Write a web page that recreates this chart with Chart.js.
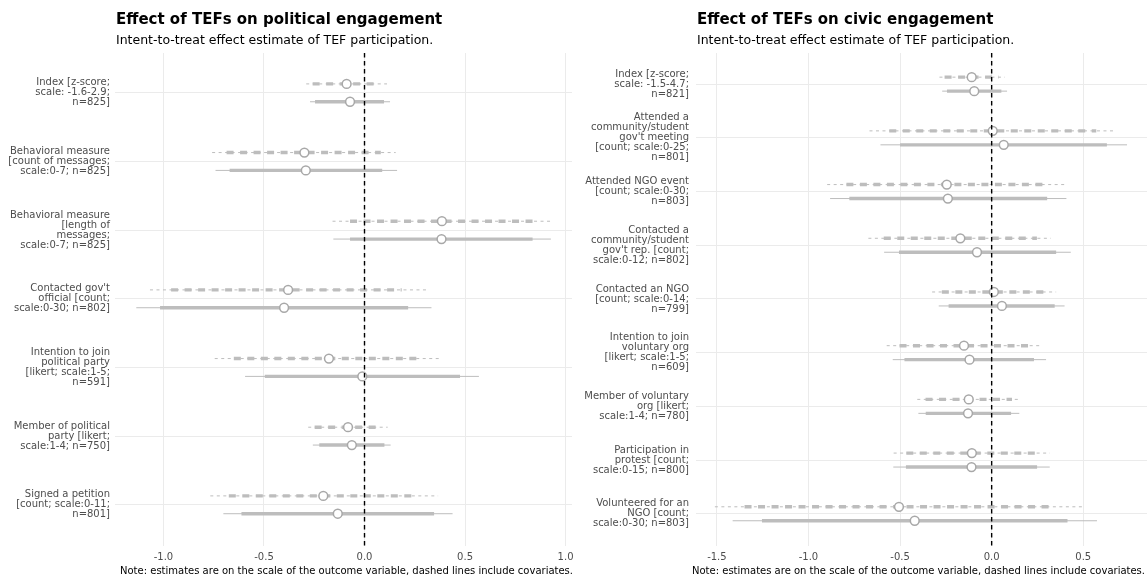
<!DOCTYPE html>
<html>
<head>
<meta charset="utf-8">
<script src="https://cdn.jsdelivr.net/npm/chart.js@4.4.1/dist/chart.umd.min.js"></script>
<style>
  html, body { margin: 0; padding: 0; background: #ffffff; }
  #wrap { position: relative; width: 1147px; height: 577px; overflow: hidden; }
  #pol, #civ { position: absolute; top: 0; }
  #pol { left: 0; }
  #civ { left: 572px; }
</style>
</head>
<body>
<div id="wrap">
  <canvas id="pol" width="590" height="577"></canvas>
  <canvas id="civ" width="600" height="577"></canvas>
</div>
<script>
// ---- Political engagement outcomes (top to bottom) ----
const polLabels = [
  ['Index [z-score;', 'scale: -1.6-2.9;', 'n=825]'],
  ['Behavioral measure', '[count of messages;', 'scale:0-7; n=825]'],
  ['Behavioral measure', '[length of', 'messages;', 'scale:0-7; n=825]'],
  ["Contacted gov't", 'official [count;', 'scale:0-30; n=802]'],
  ['Intention to join', 'political party', '[likert; scale:1-5;', 'n=591]'],
  ['Member of political', 'party [likert;', 'scale:1-4; n=750]'],
  ['Signed a petition', '[count; scale:0-11;', 'n=801]']
];
// with covariates (dashed)
const polAdjEst  = [-0.089, -0.299, 0.385, -0.380, -0.177, -0.082, -0.205];
const polAdjCI95 = [[-0.290, 0.112], [-0.758, 0.155], [-0.159, 0.927], [-1.067, 0.306], [-0.745, 0.385], [-0.280, 0.115], [-0.767, 0.366]];
const polAdjCI90 = [[-0.258, 0.078], [-0.686, 0.081], [-0.072, 0.844], [-0.962, 0.185], [-0.650, 0.290], [-0.248, 0.084], [-0.675, 0.265]];
// without covariates (solid)
const polRawEst  = [-0.072, -0.292, 0.383, -0.400, -0.011, -0.063, -0.133];
const polRawCI95 = [[-0.271, 0.127], [-0.741, 0.162], [-0.155, 0.927], [-1.135, 0.333], [-0.594, 0.569], [-0.257, 0.130], [-0.702, 0.438]];
const polRawCI90 = [[-0.246, 0.097], [-0.671, 0.088], [-0.072, 0.836], [-1.017, 0.217], [-0.496, 0.475], [-0.225, 0.099], [-0.612, 0.346]];
const polTicks = [-1, -0.5, 0, 0.5, 1];

// ---- Civic engagement outcomes (top to bottom) ----
const civLabels = [
  ['Index [z-score;', 'scale: -1.5-4.7;', 'n=821]'],
  ['Attended a', 'community/student', "gov't meeting", '[count; scale:0-25;', 'n=801]'],
  ['Attended NGO event', '[count; scale:0-30;', 'n=803]'],
  ['Contacted a', 'community/student', "gov't rep. [count;", 'scale:0-12; n=802]'],
  ['Contacted an NGO', '[count; scale:0-14;', 'n=799]'],
  ['Intention to join', 'voluntary org', '[likert; scale:1-5;', 'n=609]'],
  ['Member of voluntary', 'org [likert;', 'scale:1-4; n=780]'],
  ['Participation in', 'protest [count;', 'scale:0-15; n=800]'],
  ['Volunteered for an', 'NGO [count;', 'scale:0-30; n=803]']
];
const civAdjEst  = [-0.109, 0.006, -0.245, -0.171, 0.012, -0.151, -0.125, -0.108, -0.506];
const civAdjCI95 = [[-0.285, 0.072], [-0.667, 0.679], [-0.898, 0.412], [-0.673, 0.323], [-0.325, 0.352], [-0.573, 0.267], [-0.406, 0.157], [-0.535, 0.318], [-1.511, 0.498]];
const civAdjCI90 = [[-0.257, 0.040], [-0.559, 0.571], [-0.793, 0.303], [-0.589, 0.247], [-0.272, 0.296], [-0.503, 0.200], [-0.361, 0.111], [-0.466, 0.250], [-1.349, 0.337]];
const civRawEst  = [-0.095, 0.066, -0.239, -0.080, 0.056, -0.121, -0.129, -0.110, -0.420];
const civRawCI95 = [[-0.270, 0.084], [-0.607, 0.739], [-0.882, 0.408], [-0.587, 0.432], [-0.289, 0.398], [-0.540, 0.297], [-0.400, 0.151], [-0.537, 0.317], [-1.414, 0.575]];
const civRawCI90 = [[-0.244, 0.053], [-0.500, 0.629], [-0.777, 0.303], [-0.506, 0.352], [-0.235, 0.344], [-0.476, 0.231], [-0.360, 0.106], [-0.468, 0.248], [-1.254, 0.414]];
const civTicks = [-1.5, -1, -0.5, 0, 0.5];

const SUBTITLE = 'Intent-to-treat effect estimate of TEF participation.';
const CAPTION = 'Note: estimates are on the scale of the outcome variable, dashed lines include covariates.';

const FONT = '"DejaVu Sans", "Liberation Sans", sans-serif';
const DODGE = 0.13;          // vertical offset between the two estimates of a row
const LINE_GREY = '#bdbdbd';
const POINT_GREY = '#a8a8a8';

// interval segments: one line dataset, broken into pieces by null points
function intervalData(ci, offset) {
  const out = [];
  ci.forEach((pair, i) => {
    out.push({ x: pair[0], y: i + offset });
    out.push({ x: pair[1], y: i + offset });
    out.push({ x: null, y: null });
  });
  return out;
}
function pointData(est, offset) {
  return est.map((v, i) => ({ x: v, y: i + offset }));
}

// titles, subtitle and caption, aligned to the plotting panel
const panelText = {
  id: 'panelText',
  afterDraw(chart, args, opts) {
    const { ctx, chartArea } = chart;
    ctx.save();
    ctx.fillStyle = '#000000';
    ctx.textBaseline = 'alphabetic';
    ctx.textAlign = 'left';
    ctx.font = 'bold 15px ' + FONT;
    ctx.fillText(opts.title, chartArea.left + 1, 24);
    ctx.font = '12.5px ' + FONT;
    ctx.fillText(opts.subtitle, chartArea.left + 1, 44);
    ctx.font = '10px ' + FONT;
    ctx.textAlign = 'right';
    ctx.fillText(opts.caption, chartArea.right + opts.captionShift, 574);
    ctx.restore();
  }
};

function buildPanel(canvasId, cfg) {
  const n = cfg.labels.length;
  const yMin = -0.58, yMax = n - 1 + 0.6;
  const lineBase = { type: 'line', pointRadius: 0, tension: 0, spanGaps: false,
                     borderCapStyle: 'butt', borderColor: LINE_GREY };
  const datasets = [
    // reference line at zero
    { ...lineBase, data: [{ x: 0, y: yMin }, { x: 0, y: yMax }], borderColor: '#000000',
      borderWidth: 1.4, borderDash: [4.5, 3.5], order: -1 },
    // estimates
    { type: 'line', showLine: false, data: pointData(cfg.adjEst, -DODGE), pointRadius: 4.4,
      pointBorderWidth: 1.5, pointBackgroundColor: '#ffffff', pointBorderColor: POINT_GREY, order: 0 },
    { type: 'line', showLine: false, data: pointData(cfg.rawEst, DODGE), pointRadius: 4.4,
      pointBorderWidth: 1.5, pointBackgroundColor: '#ffffff', pointBorderColor: POINT_GREY, order: 0 },
    // 90% intervals (thick)
    { ...lineBase, data: intervalData(cfg.adjCI90, -DODGE), borderWidth: 3.4, borderDash: [7, 6.5], order: 1 },
    { ...lineBase, data: intervalData(cfg.rawCI90, DODGE), borderWidth: 3.4, order: 1 },
    // 95% intervals (thin)
    { ...lineBase, data: intervalData(cfg.adjCI95, -DODGE), borderWidth: 1, borderDash: [3, 3.5], order: 2 },
    { ...lineBase, data: intervalData(cfg.rawCI95, DODGE), borderWidth: 1, order: 2 }
  ];

  return new Chart(document.getElementById(canvasId), {
    type: 'line',
    data: { datasets },
    plugins: [panelText],
    options: {
      responsive: false,
      animation: false,
      events: [],
      layout: { padding: cfg.padding },
      plugins: {
        legend: { display: false },
        tooltip: { enabled: false },
        panelText: { title: cfg.title, subtitle: SUBTITLE, caption: CAPTION, captionShift: cfg.captionShift }
      },
      scales: {
        x: {
          type: 'linear', min: cfg.xMin, max: cfg.xMax,
          afterBuildTicks: s => { s.ticks = cfg.ticks.map(v => ({ value: v })); },
          afterFit: s => { s.height = 31; },
          ticks: { callback: v => Number(v).toFixed(1), color: '#4d4d4d',
                   font: { family: FONT, size: 10 }, padding: 5, maxRotation: 0, autoSkip: false },
          grid: { color: '#ebebeb', lineWidth: 1, drawTicks: false },
          border: { display: false }
        },
        y: {
          type: 'linear', reverse: true, min: yMin, max: yMax,
          afterBuildTicks: s => { s.ticks = cfg.labels.map((_, i) => ({ value: i })); },
          afterFit: s => { s.width = cfg.yWidth; },
          ticks: { callback: v => cfg.labels[v], color: '#4d4d4d',
                   font: { family: FONT, size: 10, lineHeight: 1.0 }, padding: cfg.labelGap, autoSkip: false },
          grid: { color: '#ebebeb', lineWidth: 1, drawTicks: false },
          border: { display: false }
        }
      }
    }
  });
}

buildPanel('pol', {
  title: 'Effect of TEFs on political engagement',
  labels: polLabels, ticks: polTicks,
  adjEst: polAdjEst, adjCI95: polAdjCI95, adjCI90: polAdjCI90,
  rawEst: polRawEst, rawCI95: polRawCI95, rawCI90: polRawCI90,
  xMin: -1.241, xMax: 1.032, yWidth: 115, labelGap: 5,
  padding: { top: 53, right: 18, left: 0, bottom: 0 }, captionShift: 1
});

buildPanel('civ', {
  title: 'Effect of TEFs on civic engagement',
  labels: civLabels, ticks: civTicks,
  adjEst: civAdjEst, adjCI95: civAdjCI95, adjCI90: civAdjCI90,
  rawEst: civRawEst, rawCI95: civRawCI95, rawCI90: civRawCI90,
  xMin: -1.614, xMax: 0.848, yWidth: 124, labelGap: 7,
  padding: { top: 53, right: 25, left: 0, bottom: 0 }, captionShift: -2
});
</script>
</body>
</html>
